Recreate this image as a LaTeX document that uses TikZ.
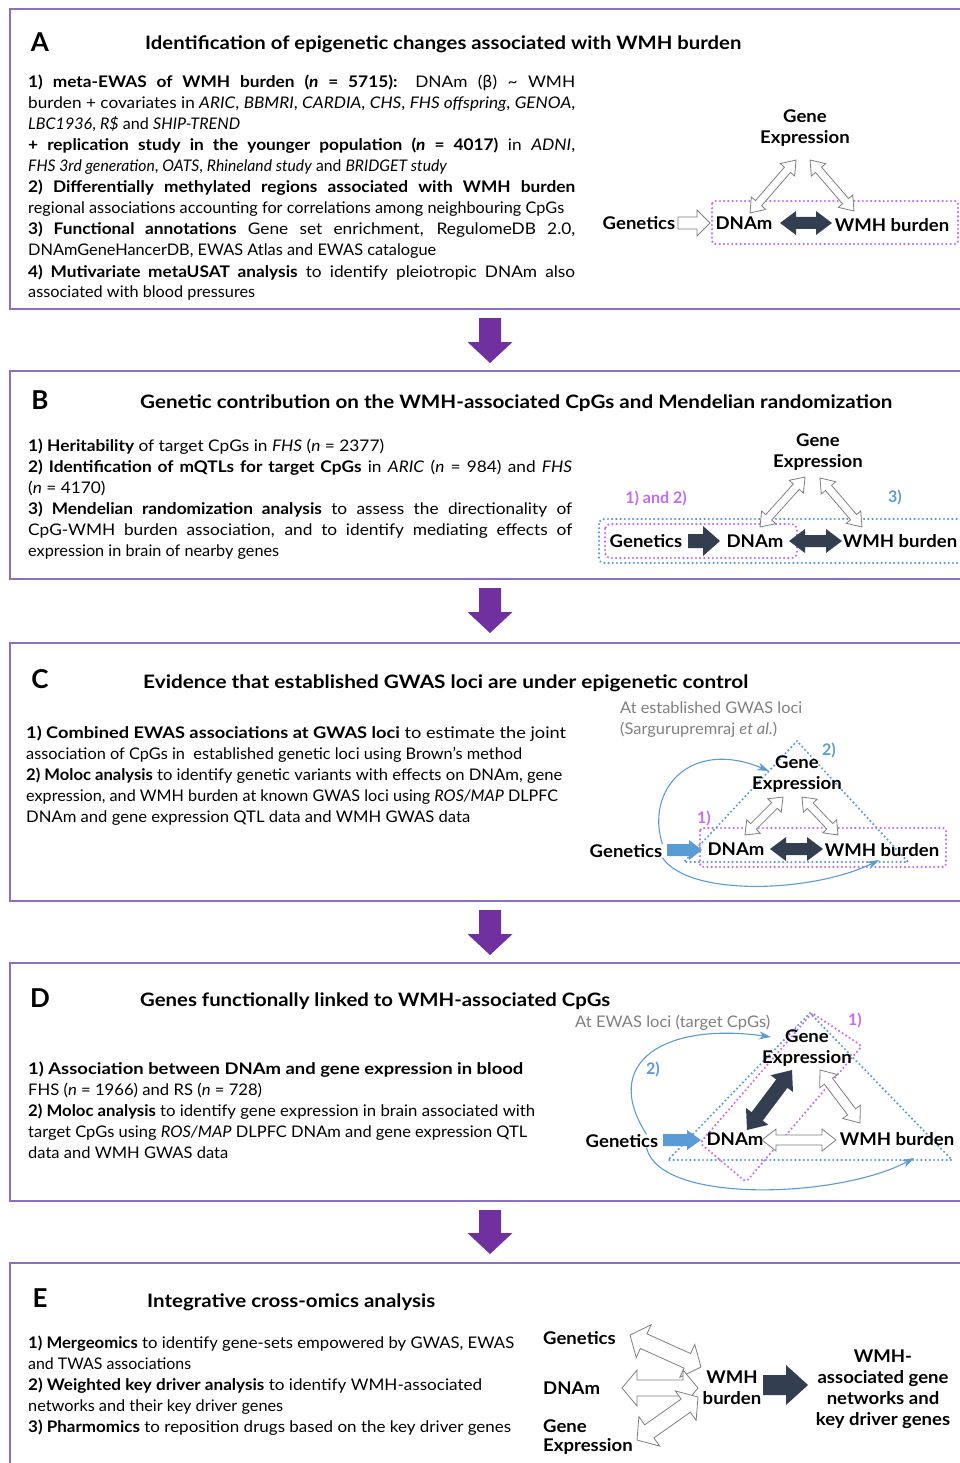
\documentclass[tikz,border=0pt]{standalone}
\usepackage{fontspec}
\usepackage{graphicx}
\setmainfont{Lato}
\newfontfamily\lblfont[FakeStretch=1.06]{Lato}
\newfontfamily\widefont[FakeStretch=1.08]{Lato}
\newfontfamily\dejavu{DejaVu Sans}
\usetikzlibrary{calc,arrows.meta}
\definecolor{panelcol}{RGB}{140,110,190}
\definecolor{bigpurple}{HTML}{7030A0}
\definecolor{darkarr}{HTML}{333F50}
\definecolor{blueacc}{HTML}{5B9BD5}
\definecolor{pinkacc}{HTML}{C66AF2}
\definecolor{graytxt}{HTML}{808080}
\definecolor{hollowline}{HTML}{7F7F7F}
\newsavebox\linebox
\newcommand\rl[2]{\resizebox{#1pt}{\height}{#2}}
\newcommand\jl[2]{\sbox\linebox{#2}\ifdim\wd\linebox>#1pt\relax\resizebox{#1pt}{\height}{\usebox\linebox}\else\makebox[#1pt][s]{#2}\fi}
% double fat arrow: style, A, B, half shaft, half head, head length
\newcommand\dblarrow[6][]{%
 \filldraw[#1] (#2)
 -- ($(#2)!#6!(#3)!#5!90:(#3)$)
 -- ($(#2)!#6!(#3)!#4!90:(#3)$)
 -- ($(#3)!#6!(#2)!#4!-90:(#2)$)
 -- ($(#3)!#6!(#2)!#5!-90:(#2)$)
 -- (#3)
 -- ($(#3)!#6!(#2)!#5!90:(#2)$)
 -- ($(#3)!#6!(#2)!#4!90:(#2)$)
 -- ($(#2)!#6!(#3)!#4!-90:(#3)$)
 -- ($(#2)!#6!(#3)!#5!-90:(#3)$)
 -- cycle;}
% single fat arrow
\newcommand\sglarrow[6][]{%
 \filldraw[#1] ($(#2)!#4!90:(#3)$)
 -- ($(#3)!#6!(#2)!#4!-90:(#2)$)
 -- ($(#3)!#6!(#2)!#5!-90:(#2)$)
 -- (#3)
 -- ($(#3)!#6!(#2)!#5!90:(#2)$)
 -- ($(#3)!#6!(#2)!#4!90:(#2)$)
 -- ($(#2)!#4!-90:(#3)$) -- cycle;}
\begin{document}
\begin{tikzpicture}[x=1pt,y=-1pt,
 txt/.style={anchor=base west, inner sep=0pt, font=\widefont\fontsize{16}{18}\selectfont},
 txtA/.style={anchor=base west, inner sep=0pt, font=\widefont\fontsize{16}{18}\selectfont},
 ttl/.style={anchor=base west, inner sep=0pt, font=\bfseries\fontsize{18.5}{22}\selectfont},
 letter/.style={anchor=base, inner sep=0pt, font=\bfseries\fontsize{26}{30}\selectfont},
 lbl/.style={inner sep=0pt, font=\lblfont\bfseries\fontsize{17.5}{21}\selectfont, align=center},
 graylbl/.style={anchor=base west, inner sep=0pt, text=graytxt, font=\fontsize{16}{18}\selectfont},
 pinklbl/.style={inner sep=0pt, text=pinkacc, font=\bfseries\fontsize{16}{18}\selectfont},
 bluelbl/.style={inner sep=0pt, text=blueacc, font=\bfseries\fontsize{16}{18}\selectfont},
 panel/.style={draw=panelcol, line width=1.6pt},
 bigarrow/.style={fill=bigpurple, draw=none},
 hollow/.style={fill=white, draw=hollowline, line width=0.8pt},
 darkfill/.style={fill=darkarr, draw=none},
 bluefill/.style={fill=blueacc, draw=none},
 pinkdot/.style={draw=pinkacc, line width=2.4pt, dash pattern=on 0pt off 4.2pt, line cap=round},
 bluedot/.style={draw=blueacc, line width=2.4pt, dash pattern=on 0pt off 4.2pt, line cap=round},
 curve/.style={draw=blueacc, line width=1.1pt, -{Stealth[length=12pt,width=8pt]}},
]
\useasboundingbox[fill=white] (0,0) rectangle (959,1463);

% ---------------- panel frames ----------------
\draw[panel] (975,9) -- (10,9) -- (10,309) -- (975,309);
\draw[panel] (975,371) -- (10,371) -- (10,579) -- (975,579);
\draw[panel] (975,643) -- (10,643) -- (10,901) -- (975,901);
\draw[panel] (975,963) -- (10,963) -- (10,1201) -- (975,1201);
\draw[panel] (975,1263) -- (10,1263) -- (10,1475);

% ---------------- big arrows between panels ----------------
\coordinate (p1s) at (490,318); \coordinate (p1e) at (490,363);
\coordinate (p2s) at (490,588); \coordinate (p2e) at (490,633);
\coordinate (p3s) at (490,910); \coordinate (p3e) at (490,955);
\coordinate (p4s) at (490,1210); \coordinate (p4e) at (490,1254);
\sglarrow[bigarrow]{p1s}{p1e}{11pt}{22.5pt}{21pt}
\sglarrow[bigarrow]{p2s}{p2e}{11pt}{22.5pt}{21pt}
\sglarrow[bigarrow]{p3s}{p3e}{11pt}{22.5pt}{21pt}
\sglarrow[bigarrow]{p4s}{p4e}{11pt}{22.5pt}{21pt}

% ================= PANEL A =================
\node[letter] (letA) at (40,51.5) {A};
\node[ttl] (ttlA) at (145,50) {\rl{596}{Identification of epigenetic changes associated with WMH burden}};
\node[txtA] (a1) at (28,88) {\jl{547}{\textbf{1) meta-EWAS of WMH burden (\textit{n} = 5715):} DNAm ({\dejavu β}) \textasciitilde{} WMH}};
\node[txtA] (a2) at (28,109) {\jl{547}{burden + covariates in \textit{ARIC}, \textit{BBMRI}, \textit{CARDIA}, \textit{CHS}, \textit{FHS offspring}, \textit{GENOA},}};
\node[txtA] (a3) at (28,130) {\rl{212}{\textit{LBC1936}, \textit{R\$} and \textit{SHIP-TREND}}};
\node[txtA] (a4) at (28,151) {\jl{547}{\textbf{+ replication study in the younger population (\textit{n} = 4017)} in \textit{ADNI},}};
\node[txtA] (a5) at (28,172) {\rl{419}{\textit{FHS 3rd generation}, \textit{OATS}, \textit{Rhineland study} and \textit{BRIDGET study}}};
\node[txtA] (a6) at (28,193) {\jl{547}{\textbf{2) Differentially methylated regions associated with WMH burden}}};
\node[txtA] (a7) at (28,214) {\rl{536}{regional associations accounting for correlations among neighbouring CpGs}};
\node[txtA] (a8) at (28,235) {\jl{547}{\textbf{3) Functional annotations} Gene set enrichment, RegulomeDB 2.0,}};
\node[txtA] (a9) at (28,256) {\rl{408}{DNAmGeneHancerDB, EWAS Atlas and EWAS catalogue}};
\node[txtA] (a10) at (28,277) {\jl{547}{\textbf{4) Mutivariate metaUSAT analysis} to identify pleiotropic DNAm also}};
\node[txtA] (a11) at (28,298) {\rl{227}{associated with blood pressures}};

\draw[pinkdot, rounded corners=3pt] (712,201) rectangle (958,244);
\node[lbl] (geA) at (805,128) {Gene\\Expression};
\node[lbl] (genA) at (639,223) {Genetics};
\node[lbl] (dnamA) at (744,223) {DNAm};
\node[lbl] (wmhA) at (892,225) {WMH burden};
\coordinate (a1s) at (678,223); \coordinate (a1e) at (710,223);
\sglarrow[hollow]{a1s}{a1e}{6pt}{13pt}{13pt}
\coordinate (a2s) at (780,223); \coordinate (a2e) at (832,223);
\dblarrow[darkfill]{a2s}{a2e}{6pt}{12pt}{16pt}
\coordinate (a3s) at (750,213); \coordinate (a3e) at (796,160);
\dblarrow[hollow]{a3s}{a3e}{4pt}{9.5pt}{13pt}
\coordinate (a4s) at (810,160); \coordinate (a4e) at (854,211);
\dblarrow[hollow]{a4s}{a4e}{4pt}{9.5pt}{13pt}

% ================= PANEL B =================
\node[letter] (letB) at (40,409.5) {B};
\node[ttl] (ttlB) at (140,408) {\rl{752}{Genetic contribution on the WMH-associated CpGs and Mendelian randomization}};
\node[txt] (b1) at (28,451) {\rl{356}{\textbf{1) Heritability} of target CpGs in \textit{FHS} (\textit{n} = 2377)}};
\node[txt] (b2) at (28,472) {\jl{544}{\textbf{2) Identification of mQTLs for target CpGs} in \textit{ARIC} (\textit{n} = 984) and \textit{FHS}}};
\node[txt] (b3) at (28,493) {(\textit{n} = 4170)};
\node[txt] (b4) at (28,514) {\jl{544}{\textbf{3) Mendelian randomization analysis} to assess the directionality of}};
\node[txt] (b5) at (28,535) {\jl{544}{CpG-WMH burden association, and to identify mediating effects of}};
\node[txt] (b6) at (28,556) {\rl{251}{expression in brain of nearby genes}};

\draw[bluedot, rounded corners=5pt] (599,519) rectangle (975,563);
\draw[pinkdot, rounded corners=5pt] (605,524) rectangle (797,558);
\node[pinklbl] (b12) at (656,498) {1) and 2)};
\node[bluelbl] (b3l) at (895,497) {3)};
\node[lbl] (geB) at (818,452) {Gene\\Expression};
\node[lbl] (genB) at (646,541) {Genetics};
\node[lbl] (dnamB) at (755,541) {DNAm};
\node[lbl] (wmhB) at (900,541) {WMH burden};
\coordinate (b1s) at (688,541); \coordinate (b1e) at (720,541);
\sglarrow[darkfill]{b1s}{b1e}{7pt}{15pt}{17pt}
\coordinate (b2s) at (789,541); \coordinate (b2e) at (842,541);
\dblarrow[darkfill]{b2s}{b2e}{6pt}{12pt}{16pt}
\coordinate (b3s) at (760,527); \coordinate (b3e) at (805,477);
\dblarrow[hollow]{b3s}{b3e}{4pt}{9.5pt}{13pt}
\coordinate (b4s) at (820,478); \coordinate (b4e) at (862,527);
\dblarrow[hollow]{b4s}{b4e}{4pt}{9.5pt}{13pt}

% ================= PANEL C =================
\node[letter] (letC) at (40,688.5) {C};
\node[ttl] (ttlC) at (143,688) {\rl{605}{Evidence that established GWAS loci are under epigenetic control}};
\node[txt] (c1) at (26,738) {\rl{540}{\textbf{1) Combined EWAS associations at GWAS loci} to estimate the joint}};
\node[txt] (c2) at (26,759) {\rl{496}{association of CpGs in\ \ established genetic loci using Brown’s method}};
\node[txt] (c3) at (26,780) {\rl{536}{\textbf{2) Moloc analysis} to identify genetic variants with effects on DNAm, gene}};
\node[txt] (c4) at (26,801) {\rl{532}{expression, and WMH burden at known GWAS loci using \textit{ROS/MAP} DLPFC}};
\node[txt] (c5) at (26,822) {\rl{444}{DNAm and gene expression QTL data and WMH GWAS data}};

\node[graylbl] (cg1) at (620,713) {\rl{182}{At established GWAS loci}};
\node[graylbl] (cg2) at (620,734) {\rl{157}{(Sargurupremraj \textit{et al.})}};
\draw[bluedot] (797,741) -- (684,862) -- (908,862) -- cycle;
\draw[pinkdot, rounded corners=3pt] (700,828) rectangle (946,867);
\node[bluelbl] (c2l) at (829,750) {2)};
\node[pinklbl] (c1l) at (704,818) {1)};
\node[lbl] (geC) at (797,774) {Gene\\Expression};
\node[lbl] (genC) at (626,851) {Genetics};
\node[lbl] (dnamC) at (736,849) {DNAm};
\node[lbl] (wmhC) at (882,850) {WMH burden};
\coordinate (c1s) at (667,850); \coordinate (c1e) at (702,850);
\sglarrow[bluefill]{c1s}{c1e}{6pt}{10pt}{13pt}
\coordinate (c2s) at (770,849); \coordinate (c2e) at (823,849);
\dblarrow[darkfill]{c2s}{c2e}{6pt}{12pt}{16pt}
\coordinate (c3s) at (745,835); \coordinate (c3e) at (783,797);
\dblarrow[hollow]{c3s}{c3e}{4pt}{9.5pt}{12pt}
\coordinate (c4s) at (802,797); \coordinate (c4e) at (838,835);
\dblarrow[hollow]{c4s}{c4e}{4pt}{9.5pt}{12pt}
\coordinate (ctop) at (769,771);
\coordinate (cbot) at (879,860);
\draw[curve] (genC.north east) .. controls (645,790) and (690,738) .. (ctop);
\draw[curve] (genC.south east) .. controls (690,898) and (815,892) .. (cbot);

% ================= PANEL D =================
\node[letter] (letD) at (40,1007.5) {D};
\node[ttl] (ttlD) at (140,1006) {\rl{470}{Genes functionally linked to WMH-associated CpGs}};
\node[txt] (d1) at (28,1074) {\rl{495}{\textbf{1) Association between DNAm and gene expression in blood}}};
\node[txt] (d2) at (28,1095) {\rl{234}{FHS (\textit{n} = 1966) and RS (\textit{n} = 728)}};
\node[txt] (d3) at (28,1116) {\rl{507}{\textbf{2) Moloc analysis} to identify gene expression in brain associated with}};
\node[txt] (d4) at (28,1137) {\rl{499}{target CpGs using \textit{ROS/MAP} DLPFC DNAm and gene expression QTL}};
\node[txt] (d5) at (28,1158) {\rl{200}{data and WMH GWAS data}};

\node[graylbl] (dg1) at (575,1027) {\rl{195}{At EWAS loci (target CpGs)}};
\draw[bluedot] (810,1013) -- (668,1160) -- (952,1160) -- cycle;
\draw[pinkdot, rounded corners=3pt] (812,1013) -- (862,1046) -- (746,1182) -- (700,1143) -- cycle;
\node[pinklbl] (d1l) at (855,1020) {1)};
\node[bluelbl] (d2l) at (653,1069) {2)};
\node[lbl] (geD) at (807,1048) {Gene\\Expression};
\node[lbl] (genD) at (622,1141) {Genetics};
\node[lbl] (dnamD) at (735,1139) {DNAm};
\node[lbl] (wmhD) at (897,1139) {WMH burden};
\coordinate (d1s) at (663,1140); \coordinate (d1e) at (701,1140);
\sglarrow[bluefill]{d1s}{d1e}{6pt}{10pt}{14pt}
\coordinate (d2s) at (762,1140); \coordinate (d2e) at (836,1140);
\dblarrow[hollow]{d2s}{d2e}{5pt}{11pt}{14pt}
\coordinate (d3s) at (747,1130); \coordinate (d3e) at (792,1070);
\dblarrow[darkfill]{d3s}{d3e}{7pt}{14pt}{17pt}
\coordinate (d4s) at (820,1070); \coordinate (d4e) at (860,1123);
\dblarrow[hollow]{d4s}{d4e}{5pt}{11pt}{14pt}
\coordinate (dtop) at (771,1037);
\coordinate (dbot) at (914,1158);
\draw[curve] ([xshift=-12pt]genD.north east) .. controls (600,1062) and (665,1022) .. (dtop);
\draw[curve] ([xshift=-12pt]genD.south east) .. controls (660,1205) and (840,1198) .. (dbot);

% ================= PANEL E =================
\node[letter] (letE) at (40,1307.5) {E};
\node[ttl] (ttlE) at (147,1307) {\rl{288}{Integrative cross-omics analysis}};
\node[txt] (e1) at (28,1348) {\rl{486}{\textbf{1) Mergeomics} to identify gene-sets empowered by GWAS, EWAS}};
\node[txt] (e2) at (28,1369) {\rl{163}{and TWAS associations}};
\node[txt] (e3) at (28,1390) {\rl{454}{\textbf{2) Weighted key driver analysis} to identify WMH-associated}};
\node[txt] (e4) at (28,1411) {\rl{255}{networks and their key driver genes}};
\node[txt] (e5) at (28,1432) {\rl{483}{\textbf{3) Pharmomics} to reposition drugs based on the key driver genes}};

\node[lbl, anchor=west] (genE) at (543,1338) {Genetics};
\node[lbl, anchor=west] (dnamE) at (543,1388) {DNAm};
\node[lbl, anchor=west, align=left, font=\lblfont\bfseries\fontsize{17.5}{18.5}\selectfont] (geE) at (543,1437) {Gene\\Expression};
\node[lbl] (wmhE) at (732,1388) {WMH\\burden};
\node[lbl] (outE) at (883,1389) {WMH-\\associated gene\\networks and\\key driver genes};
\coordinate (e1s) at (630,1335); \coordinate (e1e) at (701,1367);
\dblarrow[hollow]{e1s}{e1e}{8pt}{18pt}{15pt}
\coordinate (e2s) at (622,1388); \coordinate (e2e) at (698,1388);
\dblarrow[hollow]{e2s}{e2e}{8pt}{18pt}{15pt}
\coordinate (e3s) at (637,1440); \coordinate (e3e) at (698,1397);
\dblarrow[hollow]{e3s}{e3e}{8pt}{18pt}{15pt}
\coordinate (e4s) at (763,1385); \coordinate (e4e) at (808,1385);
\sglarrow[darkfill]{e4s}{e4e}{10pt}{20pt}{22pt}
\end{tikzpicture}
\end{document}
